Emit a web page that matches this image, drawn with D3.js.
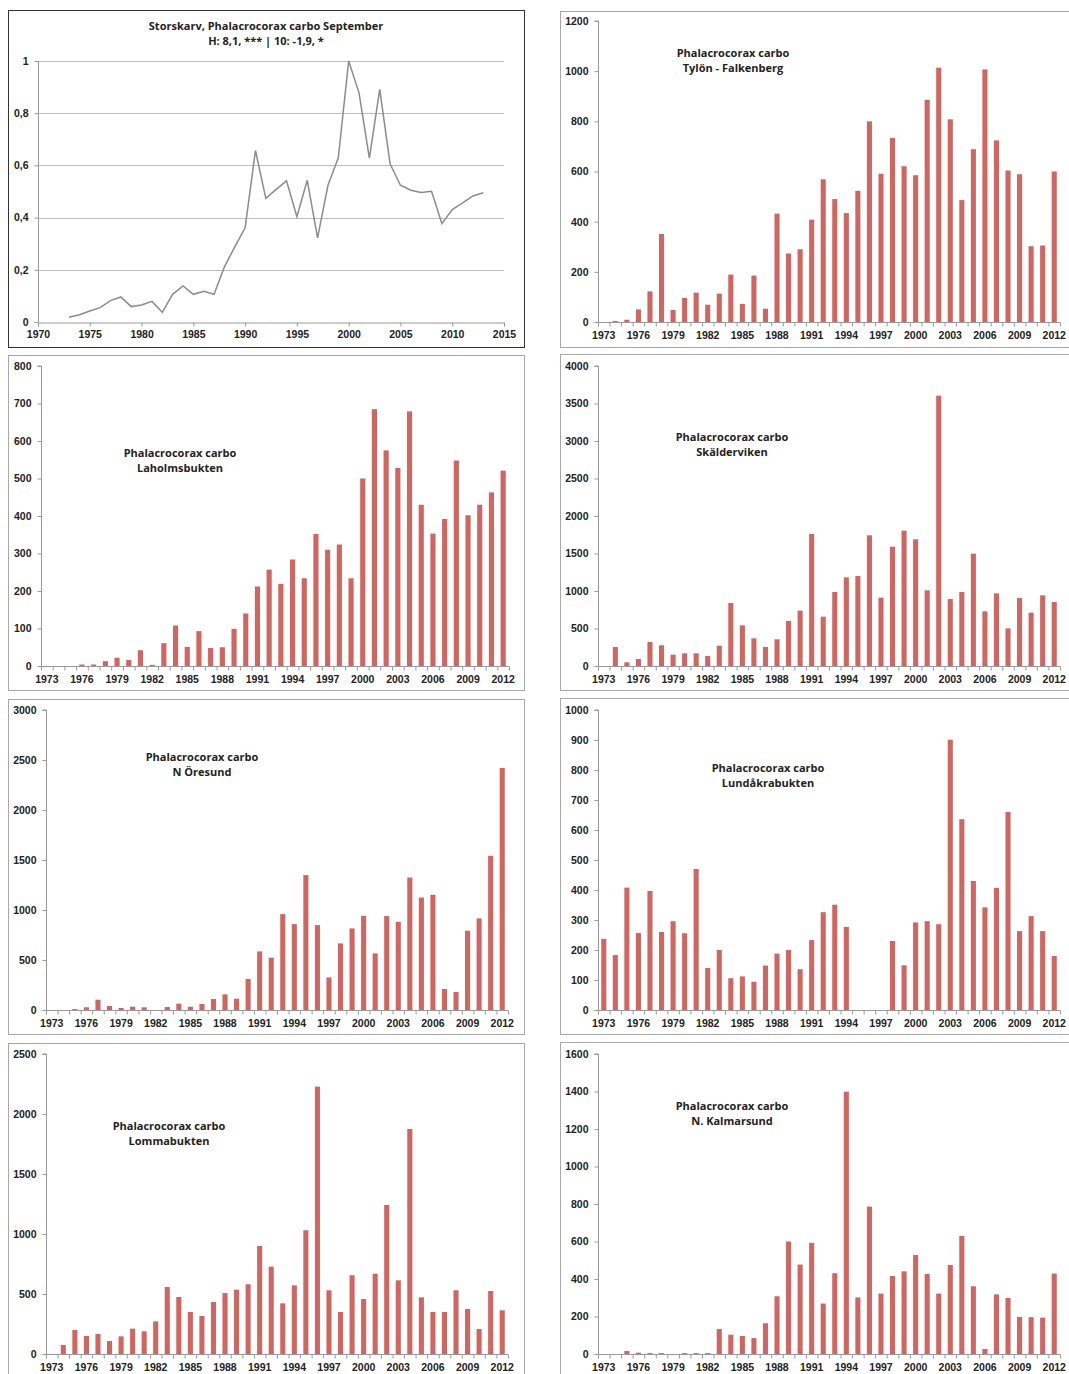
<!DOCTYPE html>
<meta charset="utf-8">
<style>
    body { margin: 0; background: #fff; }
    svg { display: block; font-family: "Open Sans", Lato, sans-serif; }
    .tick text { font-size: 10.5px; font-weight: 700; fill: #222; }
    .title { font-size: 11px; font-weight: 700; fill: #222; }
</style>
<svg id="main" width="1069" height="1374"></svg>
<script src="https://cdn.jsdelivr.net/npm/d3@7/dist/d3.min.js"></script>
<script>
    // index values for the line chart (1973..2013)
    var indexYears = d3.range(1973, 2014);
    var indexValues = [0.018, 0.028, 0.042, 0.055, 0.082, 0.096, 0.059, 0.065, 0.079, 0.037,
        0.106, 0.138, 0.106, 0.118, 0.106, 0.211, 0.288, 0.361, 0.657, 0.474,
        0.508, 0.541, 0.403, 0.543, 0.322, 0.524, 0.629, 1.0, 0.878, 0.628,
        0.891, 0.606, 0.524, 0.505, 0.496, 0.501, 0.377, 0.431, 0.456, 0.483, 0.495];

    // bar chart categories 1973..2012
    var years = d3.range(1973, 2013);
    var yearLabels = years.filter((y, i) => i % 3 == 0);

    var tylon = [0, 4, 9, 50, 122, 351, 48, 96, 117, 69,
        113, 189, 72, 185, 53, 432, 273, 290, 408, 569,
        490, 434, 523, 800, 591, 734, 621, 585, 886, 1014,
        808, 486, 689, 1007, 724, 604, 589, 302, 305, 600];
    var laholm = [0, 0, 0, 4, 4, 13, 22, 16, 42, 3,
        61, 108, 51, 93, 48, 50, 99, 140, 212, 257,
        219, 284, 234, 352, 310, 324, 234, 500, 685, 575,
        528, 679, 430, 353, 392, 548, 402, 430, 463, 521];
    var skalder = [0, 253, 49, 93, 320, 276, 151, 169, 169, 133,
        271, 840, 542, 369, 253, 356, 600, 738, 1760, 658,
        987, 1182, 1200, 1742, 911, 1591, 1804, 1689, 1009, 3604,
        893, 987, 1498, 729, 969, 502, 907, 711, 942, 853];
    var oresund = [0, 0, 10, 27, 103, 40, 20, 33, 27, 0,
        30, 63, 33, 60, 110, 156, 113, 310, 586, 523,
        959, 859, 1349, 849, 326, 666, 816, 942, 566, 939,
        882, 1325, 1125, 1152, 210, 180, 793, 916, 1542, 2421];
    var lundakra = [237, 183, 408, 257, 397, 260, 296, 256, 470, 140,
        200, 106, 112, 94, 148, 188, 200, 136, 233, 326,
        351, 277, 0, 0, 0, 230, 149, 292, 296, 286,
        901, 636, 430, 342, 407, 660, 263, 313, 263, 180];
    var lomma = [0, 75, 200, 150, 167, 108, 147, 211, 189, 272,
        558, 475, 350, 317, 433, 508, 536, 581, 900, 728,
        422, 572, 1031, 2228, 531, 350, 656, 458, 669, 1242,
        614, 1875, 472, 350, 350, 531, 375, 208, 525, 364];
    var kalmar = [0, 0, 16, 7, 5, 5, 0, 5, 5, 5,
        133, 103, 96, 85, 164, 308, 600, 477, 593, 269,
        431, 1399, 302, 786, 322, 416, 441, 528, 427, 322,
        475, 630, 361, 27, 318, 299, 198, 196, 194, 429];

    var barColor = "#cf6661";
    var axisColor = "#9a9a9a";
    var svg = d3.select("#main");

    function frame(x, y, w, h, color) {
        svg.append("rect")
            .attr("x", x + 0.5).attr("y", y + 0.5)
            .attr("width", w).attr("height", h)
            .attr("fill", "none")
            .attr("stroke", color)
            .attr("stroke-width", 1);
    }

    function styleAxis(g) {
        g.selectAll(".domain, .tick line").attr("stroke", axisColor);
    }

    // line chart panel
    (function () {
        frame(8, 10, 516, 337, "#333");
        var x = d3.scaleLinear().domain([1970, 2015]).range([38, 504]);
        var y = d3.scaleLinear().domain([0, 1]).range([322, 61]);

        svg.append("g").selectAll("line")
            .data(d3.range(0.2, 1.01, 0.2))
            .join("line")
            .attr("x1", 38).attr("x2", 504)
            .attr("y1", d => Math.round(y(d)) + 0.5).attr("y2", d => Math.round(y(d)) + 0.5)
            .attr("stroke", "#bdbdbd");

        var gy = svg.append("g").attr("transform", "translate(38.5,0)")
            .call(d3.axisLeft(y).tickValues(d3.range(0, 1.01, 0.2)).tickSize(4).tickPadding(6)
                .tickFormat(d => d3.format(".1~f")(d).replace(".", ",")));
        styleAxis(gy);
        gy.select(".domain").attr("d", "M0," + y(1) + "V" + y(0));

        var gx = svg.append("g").attr("transform", "translate(0,322.5)")
            .call(d3.axisBottom(x).tickValues(d3.range(1970, 2016, 5)).tickSize(4).tickPadding(4)
                .tickFormat(d3.format("d")));
        styleAxis(gx);

        svg.append("path")
            .datum(indexValues)
            .attr("fill", "none")
            .attr("stroke", "#8c8c8c")
            .attr("stroke-width", 1.5)
            .attr("d", d3.line().x((d, i) => x(indexYears[i])).y(d => y(d)));

        svg.append("text").attr("class", "title").attr("x", 266).attr("y", 30)
            .attr("text-anchor", "middle").text("Storskarv, Phalacrocorax carbo September");
        svg.append("text").attr("class", "title").attr("x", 266).attr("y", 45)
            .attr("text-anchor", "middle").text("H: 8,1, *** | 10: -1,9, *");
    })();

    function barPanel(p) {
        frame(p.fx, p.fy, p.fw, p.fh, "#a8a8a8");
        var x = d3.scaleBand().domain(years).range([p.left, p.right]).paddingInner(0.56).paddingOuter(0.28);
        var xi = d3.scaleLinear().domain([0, years.length]).range([p.left, p.right]);
        var y = d3.scaleLinear().domain([0, p.max]).range([p.bottom, p.top]);

        var gy = svg.append("g").attr("transform", "translate(" + (p.left + 0.5) + ",0)")
            .call(d3.axisLeft(y).tickValues(d3.range(0, p.max + 1, p.step)).tickSize(4).tickPadding(6)
                .tickFormat(d3.format("d")));
        styleAxis(gy);
        gy.select(".domain").attr("d", "M-4," + y(p.max) + "H0V" + y(0));

        // ticks between categories, labels every third year
        var gx = svg.append("g").attr("transform", "translate(0," + (p.bottom + 0.5) + ")")
            .call(d3.axisBottom(xi).tickValues(d3.range(0, years.length + 1)).tickSize(4).tickFormat(""));
        styleAxis(gx);
        gx.select(".domain").attr("d", "M" + p.left + ",0H" + p.right);

        var gl = svg.append("g").attr("transform", "translate(0," + (p.bottom + 0.5) + ")")
            .call(d3.axisBottom(x).tickValues(yearLabels).tickSize(0).tickPadding(9));
        gl.select(".domain").remove();

        svg.append("g").selectAll("rect")
            .data(p.values)
            .join("rect")
            .attr("x", (d, i) => x(years[i]))
            .attr("width", x.bandwidth())
            .attr("y", d => y(d))
            .attr("height", d => y(0) - y(d))
            .attr("fill", barColor);

        p.title.forEach((t, i) => {
            svg.append("text").attr("class", "title")
                .attr("x", p.tx).attr("y", p.ty + i * 15)
                .attr("text-anchor", "middle").text(t);
        });
    }

    barPanel({ fx: 560, fy: 11, fw: 530, fh: 336, left: 598, right: 1060, top: 21, bottom: 322,
        max: 1200, step: 200, values: tylon, tx: 733, ty: 57, title: ["Phalacrocorax carbo", "Tylön - Falkenberg"] });
    barPanel({ fx: 8, fy: 355, fw: 516, fh: 335, left: 41, right: 509, top: 366, bottom: 666,
        max: 800, step: 100, values: laholm, tx: 180, ty: 457, title: ["Phalacrocorax carbo", "Laholmsbukten"] });
    barPanel({ fx: 560, fy: 354, fw: 530, fh: 336, left: 598, right: 1060, top: 366, bottom: 666,
        max: 4000, step: 500, values: skalder, tx: 732, ty: 441, title: ["Phalacrocorax carbo", "Skälderviken"] });
    barPanel({ fx: 8, fy: 699, fw: 516, fh: 335, left: 46, right: 508, top: 710, bottom: 1010,
        max: 3000, step: 500, values: oresund, tx: 202, ty: 761, title: ["Phalacrocorax carbo", "N Öresund"] });
    barPanel({ fx: 560, fy: 698, fw: 530, fh: 336, left: 598, right: 1060, top: 710, bottom: 1010,
        max: 1000, step: 100, values: lundakra, tx: 768, ty: 772, title: ["Phalacrocorax carbo", "Lundåkrabukten"] });
    barPanel({ fx: 8, fy: 1043, fw: 516, fh: 360, left: 46, right: 508, top: 1054, bottom: 1354,
        max: 2500, step: 500, values: lomma, tx: 169, ty: 1130, title: ["Phalacrocorax carbo", "Lommabukten"] });
    barPanel({ fx: 560, fy: 1042, fw: 530, fh: 360, left: 598, right: 1060, top: 1054, bottom: 1354,
        max: 1600, step: 200, values: kalmar, tx: 732, ty: 1110, title: ["Phalacrocorax carbo", "N. Kalmarsund"] });
</script>
